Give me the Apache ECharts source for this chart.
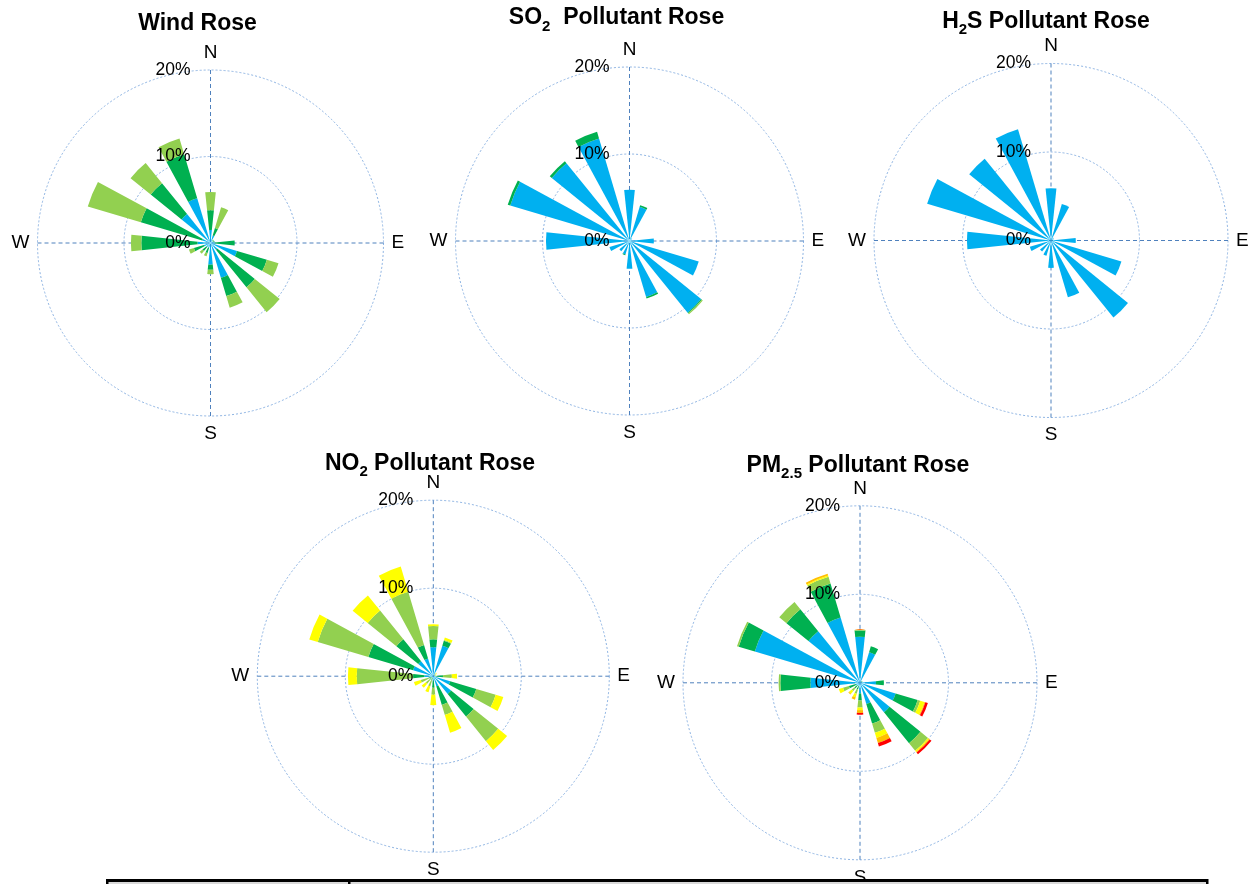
<!DOCTYPE html>
<html><head><meta charset="utf-8">
<script src="https://cdn.jsdelivr.net/npm/echarts@6/dist/echarts.min.js"></script>
<style>html,body{margin:0;padding:0;background:#fff}#c{width:1253px;height:884px}</style>
</head><body><div id="c"></div>
<script>
// ---- categories & tick labels ----
const directions = ['N','NNE','NE','ENE','E','ESE','SE','SSE','S','SSW','SW','WSW','W','WNW','NW','NNW'];
const compassLabels = ['N','E','S','W'];
const radiusTickLabels = ['0%','10%','20%'];

// ---- Wind Rose (% frequency per class) ----
const windBlue       = [1.5,0.9,0.3,0.3,0.5,3.2,1.0,4.2,2.5,0.6,0.6,0.8,1.5,1.0,4.3,5.4];
const windDarkGreen  = [2.3,0.9,0.2,0.2,2.3,3.6,5.6,2.2,0.6,0.6,0.6,1.2,6.5,7.4,4.6,5.3];
const windLightGreen = [2.1,2.5,0.0,0.0,0.0,1.4,3.7,1.4,0.5,0.4,0.4,0.6,1.2,6.4,3.0,1.9];

// ---- SO2 Pollutant Rose ----
const so2Blue       = [5.9,4.1,0.4,0.3,2.8,8.3,10.6,6.7,3.2,1.6,1.5,2.4,9.6,14.3,11.5,12.3];
const so2DarkGreen  = [0.0,0.2,0.0,0.0,0.0,0.0,0.1,0.2,0.0,0.1,0.0,0.0,0.0,0.3,0.3,0.8];
const so2LightGreen = [0.0,0.0,0.0,0.0,0.0,0.0,0.15,0.0,0.0,0.0,0.0,0.0,0.0,0.0,0.0,0.0];

// ---- H2S Pollutant Rose ----
const h2sBlue = [5.9,4.3,0.4,0.3,2.8,8.3,11.2,6.7,3.1,1.8,1.6,2.5,9.5,14.6,11.9,13.1];

// ---- NO2 Pollutant Rose ----
const no2Blue       = [3.3,3.6,0.2,0.1,0.3,2.0,2.6,1.2,0.5,0.2,0.2,0.2,1.0,2.4,2.2,2.1];
const no2DarkGreen  = [0.9,0.6,0.1,0.1,0.8,3.1,3.3,2.2,0.8,0.3,0.3,0.4,1.3,5.3,3.2,1.6];
const no2LightGreen = [1.5,0.1,0.1,0.1,1.0,2.3,3.6,1.2,0.8,0.7,0.6,0.9,6.4,6.0,4.2,6.3];
const no2Yellow     = [0.2,0.3,0.1,0.1,0.6,0.9,1.3,2.1,1.2,0.7,0.6,0.8,1.0,1.0,2.2,3.0];

// ---- PM2.5 Pollutant Rose ----
const pmBlue       = [5.2,3.6,0.2,0.2,1.8,4.2,4.3,2.5,1.2,0.4,0.4,0.5,5.6,12.4,7.5,7.7];
const pmDarkGreen  = [0.7,0.7,0.1,0.1,0.9,2.6,4.5,2.3,0.8,0.4,0.4,0.8,3.4,1.9,3.2,4.0];
const pmLightGreen = [0.1,0.0,0.0,0.0,0.0,0.3,1.1,1.1,0.8,0.5,0.4,0.7,0.2,0.2,1.05,0.8];
const pmYellow     = [0.0,0.0,0.0,0.0,0.0,0.5,0.15,0.6,0.3,0.4,0.4,0.5,0.0,0.0,0.0,0.15];
const pmOrange     = [0.0,0.0,0.0,0.0,0.0,0.1,0.1,0.6,0.3,0.3,0.1,0.0,0.0,0.0,0.0,0.2];
const pmRed        = [0.0,0.0,0.0,0.0,0.0,0.3,0.25,0.4,0.2,0.0,0.0,0.0,0.0,0.0,0.0,0.0];

// ---- styles & layout ----
const FONT = '"Liberation Sans", Arial, Helvetica, sans-serif';
const palette = {blue:'#00B0F0', darkGreen:'#00B050', lightGreen:'#92D050', yellow:'#FFFF00', orange:'#FFC000', red:'#FF0000'};

const roses = [
  {title:'{b|Wind Rose}', layers:[['blue',windBlue],['darkGreen',windDarkGreen],['lightGreen',windLightGreen]]},
  {title:'{b|SO}{s|2}{b|  Pollutant Rose}', layers:[['blue',so2Blue],['darkGreen',so2DarkGreen],['lightGreen',so2LightGreen]]},
  {title:'{b|H}{s|2}{b|S Pollutant Rose}', layers:[['blue',h2sBlue]]},
  {title:'{b|NO}{s|2}{b| Pollutant Rose}', layers:[['blue',no2Blue],['darkGreen',no2DarkGreen],['lightGreen',no2LightGreen],['yellow',no2Yellow]]},
  {title:'{b|PM}{s|2.5}{b| Pollutant Rose}', layers:[['blue',pmBlue],['darkGreen',pmDarkGreen],['lightGreen',pmLightGreen],['yellow',pmYellow],['orange',pmOrange],['red',pmRed]]}
];
const layout = [
  {cx:210.5, cy:243,   r:173, tx:197.5, ty:23.5},
  {cx:629.5, cy:241,   r:174, tx:616.5, ty:18},
  {cx:1051,  cy:240.5, r:177, tx:1046,  ty:21.5},
  {cx:433.3, cy:676.2, r:176, tx:430,   ty:463.5},
  {cx:860,   cy:682.8, r:177, tx:858,   ty:465.5}
];

const polar=[], angleAxis=[], radiusAxis=[], series=[], title=[];
roses.forEach((rose,i)=>{
  const L = layout[i];
  for (let k=0;k<3;k++) polar.push({center:[L.cx,L.cy], radius:L.r});
  const g=3*i, b=3*i+1, t=3*i+2;
  // grid polar
  angleAxis.push({polarIndex:g, type:'value', min:0, max:360, interval:90, startAngle:90, clockwise:true,
    axisLine:{show:false}, axisTick:{show:false},
    splitLine:{show:true, lineStyle:{color:'#4f81bd', type:[4,3], width:1}},
    axisLabel:{show:true, margin:8, fontSize:19, color:'#000', fontFamily:FONT,
      formatter:v=> (v%90===0 && v<360) ? compassLabels[v/90] : ''}});
  radiusAxis.push({polarIndex:g, type:'value', min:0, max:20, interval:10,
    axisLine:{show:false}, axisTick:{show:false}, axisLabel:{show:false},
    splitLine:{show:true, lineStyle:{color:'#8eb4e3', type:[2,2], width:1}}});
  // bar polar
  angleAxis.push({polarIndex:b, type:'category', data:directions, startAngle:90+360/directions.length/2,
    clockwise:true, boundaryGap:true, show:false});
  radiusAxis.push({polarIndex:b, type:'value', min:0, max:20, show:false});
  // radius-label polar
  angleAxis.push({polarIndex:t, type:'value', min:0, max:360, startAngle:90, show:false});
  radiusAxis.push({polarIndex:t, type:'value', min:0, max:20, interval:10, z:10,
    axisLine:{show:false}, axisTick:{show:false}, splitLine:{show:false},
    axisLabel:{show:true, fontSize:17.5, color:'#000', fontFamily:FONT, margin:20,
      formatter:v=>radiusTickLabels[Math.round(v/10)]}});
  rose.layers.forEach(([c,arr])=>{
    series.push({type:'bar', coordinateSystem:'polar', polarIndex:b, stack:'rose'+i, data:arr,
      barCategoryGap:'47%', itemStyle:{color:palette[c]}, silent:true, z:2});
  });
  title.push({text:rose.title, left:L.tx, top:L.ty, textAlign:'center', textVerticalAlign:'middle', padding:0,
    textStyle:{rich:{
      b:{fontSize:23, fontWeight:'bold', fontFamily:FONT, lineHeight:32, color:'#000'},
      s:{fontSize:15, fontWeight:'bold', fontFamily:FONT, lineHeight:16, verticalAlign:'bottom', color:'#000'}
    }}});
});

const chart = echarts.init(document.getElementById('c'), null, {renderer:'canvas'});
chart.setOption({
  animation:false,
  backgroundColor:'#fff',
  title, polar, angleAxis, radiusAxis, series,
  graphic:[
    {type:'rect', z:100, shape:{x:106,y:879,width:1102,height:10}, style:{fill:'#d9d9d9'}},
    {type:'rect', z:101, shape:{x:106,y:879,width:1102,height:3}, style:{fill:'#000'}},
    {type:'rect', z:101, shape:{x:106,y:879,width:2.5,height:10}, style:{fill:'#000'}},
    {type:'rect', z:101, shape:{x:348,y:879,width:2.5,height:10}, style:{fill:'#000'}},
    {type:'rect', z:101, shape:{x:1206,y:879,width:2.5,height:10}, style:{fill:'#000'}}
  ]
});
</script></body></html>
